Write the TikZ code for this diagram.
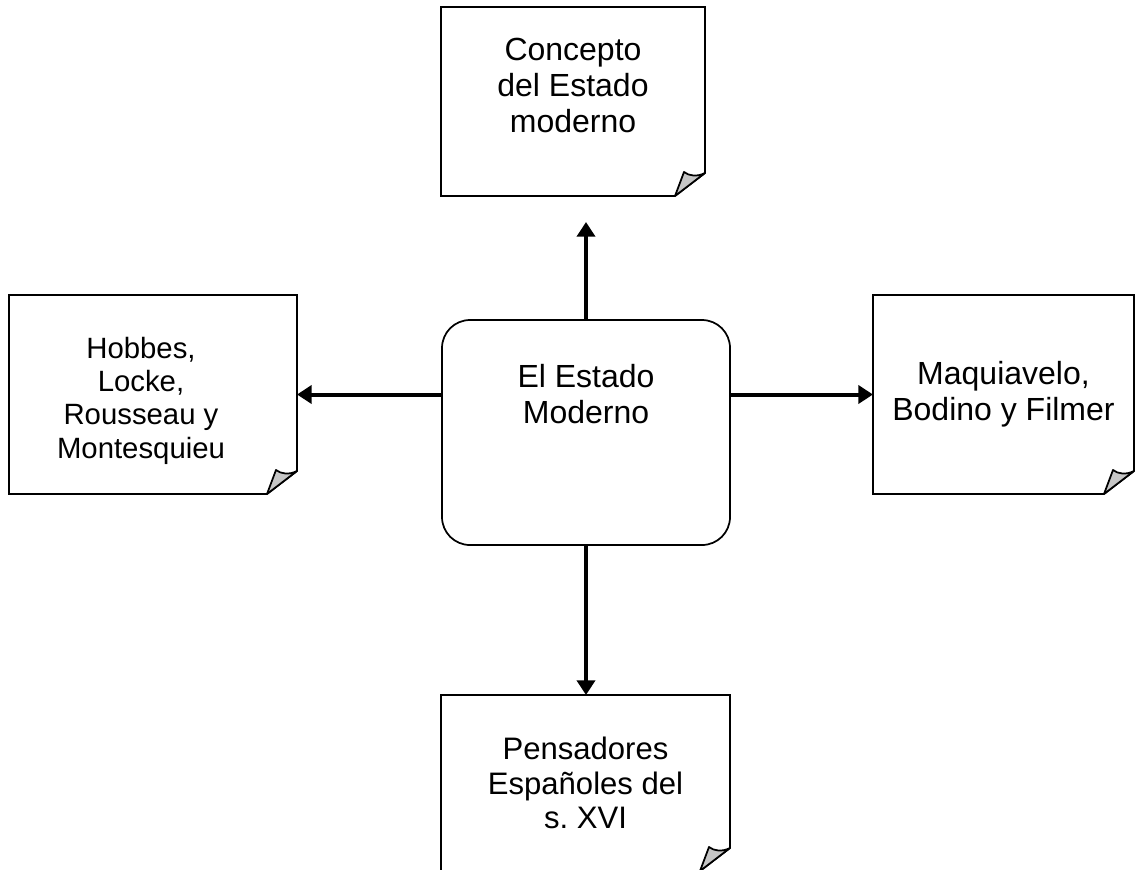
\documentclass[tikz,border=0pt]{standalone}
\usepackage{fontspec}
\setmainfont{Liberation Sans}
\usetikzlibrary{arrows.meta,calc}
\frenchspacing

\begin{document}
\begin{tikzpicture}[x=0.75pt, y=-0.75pt,
      txt/.style={font=\fontsize{24}{27}\selectfont, align=center, text=black},
      smalltxt/.style={font=\fontsize{22}{25}\selectfont, align=center, text=black},
      note/.style={txt, inner sep=0pt, outer sep=0pt},
      estadobox/.style={txt, draw, line width=1.3pt, rounded corners=21pt, inner sep=0pt, outer sep=0pt},
      frame/.style={line width=1.3pt, line join=miter},
      fold/.style={line width=1.3pt, fill=gray!45, line join=round},
      link/.style={line width=3pt, -{Triangle[width=13.5pt,length=11pt]}}
      ]
      \useasboundingbox (0,0) rectangle (1135,869);

      % centre
      \node[estadobox, minimum width=216pt, minimum height=168.75pt,
            label={[txt, name=estadotxt, yshift=29pt]center:El Estado\\Moderno}] (estado) at (586,432.5) {};

      % notes round it
      \node[note, minimum width=198pt, minimum height=141.75pt,
            label={[txt, name=conceptotxt, yshift=12pt]center:Concepto\\del Estado\\moderno}] (concepto) at (573,101.5) {};
      \node[note, minimum width=216pt, minimum height=149.25pt,
            label={[smalltxt, name=hobbestxt, xshift=-9pt, yshift=-4.5pt]center:Hobbes,\\Locke,\\Rousseau y\\Montesquieu}] (hobbes) at (153,394.5) {};
      \node[note, minimum width=195.75pt, minimum height=149.25pt] (maquiavelo) at (1003.5,394.5) {Maquiavelo,\\Bodino y Filmer};
      \node[note, minimum width=216.75pt, minimum height=132pt, font=\fontsize{23.3}{26}\selectfont] (pensadores) at (585.5,783) {Pensadores\\Españoles del\\s. XVI};

      % sheets with a turned-up corner
      \foreach \b in {concepto,hobbes,maquiavelo,pensadores} {
        \draw[frame] (\b.north west) -- (\b.north east)
          -- ($(\b.south east)+(0,-23)$) -- ($(\b.south east)+(-30,0)$)
          -- (\b.south west) -- cycle;
        \draw[fold] ($(\b.south east)+(-30,0)$) -- ($(\b.south east)+(0,-23)$)
          .. controls ($(\b.south east)+(-8,-19)$) and ($(\b.south east)+(-16,-20)$) .. ($(\b.south east)+(-21,-24)$)
          -- cycle;
      }

      % arrows
      \draw[link, shorten >=19.5pt] (estado.north) -- (estado.north |- concepto.south);
      \draw[link] (estado.west |- hobbes.east) -- (hobbes.east);
      \draw[link] (estado.east |- maquiavelo.west) -- (maquiavelo.west);
      \draw[link] (estado.south) -- (estado.south |- pensadores.north);
\end{tikzpicture}
\end{document}
